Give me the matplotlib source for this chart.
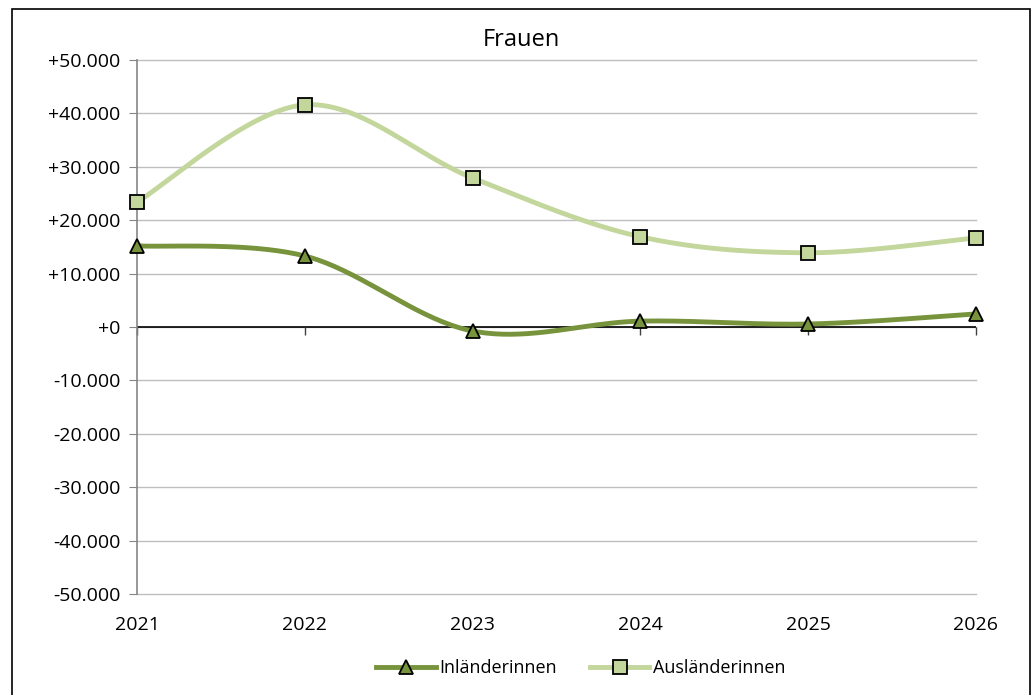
import numpy as np
import matplotlib
matplotlib.use("Agg")
import matplotlib.pyplot as plt
from matplotlib.patches import Rectangle
from matplotlib.ticker import FuncFormatter

years = ["2021", "2022", "2023", "2024", "2025", "2026"]
inlaender = [15200, 13300, -750, 1100, 560, 2450]
auslaender = [23400, 41600, 27900, 16900, 13900, 16700]
series_names = ["Inländerinnen", "Ausländerinnen"]
title = "Frauen"

plt.rcParams['font.family'] = ['Open Sans', 'DejaVu Sans']

def smooth(xs, ys, n=40):
    xs = np.asarray(xs, float); ys = np.asarray(ys, float)
    px, py = [], []
    m = len(xs)
    for i in range(m - 1):
        x0, y0 = (xs[i-1], ys[i-1]) if i > 0 else (xs[i], ys[i])
        x3, y3 = (xs[i+2], ys[i+2]) if i + 2 < m else (xs[i+1], ys[i+1])
        x1, y1 = xs[i], ys[i]
        x2, y2 = xs[i+1], ys[i+1]
        c1x, c1y = x1 + (x2 - x0) / 6, y1 + (y2 - y0) / 6
        c2x, c2y = x2 - (x3 - x1) / 6, y2 - (y3 - y1) / 6
        t = np.linspace(0, 1, n)
        bx = (1-t)**3*x1 + 3*(1-t)**2*t*c1x + 3*(1-t)*t**2*c2x + t**3*x2
        by = (1-t)**3*y1 + 3*(1-t)**2*t*c1y + 3*(1-t)*t**2*c2y + t**3*y2
        px.extend(bx); py.extend(by)
    return np.array(px), np.array(py)

fig = plt.figure(figsize=(10.35, 6.95), dpi=100)
fig.patches.append(Rectangle((12/1035, -0.05), (1030-12)/1035, 1.05 - 9/695,
                             transform=fig.transFigure, fill=False, edgecolor='black', linewidth=1.2))
ax = fig.add_axes([137/1035, 1 - 594/695, (976-137)/1035, (594-60)/695])

x = np.arange(len(years))
dark = '#77933C'
light = '#C3D69B'

ax.axhline(0, color='black', lw=1.2, zorder=2)
ax.plot(x, np.zeros(len(x)), ls='none', marker=3, ms=6, mew=1, color='#404040', zorder=2, clip_on=False)

sx, sy = smooth(x, auslaender)
ax.plot(sx, sy, color=light, lw=3.5, zorder=3, clip_on=False)
ax.plot(x, auslaender, ls='none', marker='s', ms=10, mfc=light, mec='black', mew=1.3, zorder=4, clip_on=False)
sx, sy = smooth(x, inlaender)
ax.plot(sx, sy, color=dark, lw=3.5, zorder=3, clip_on=False)
ax.plot(x, inlaender, ls='none', marker='^', ms=10.5, mfc=dark, mec='black', mew=1.3, zorder=4, clip_on=False)

ax.plot([], [], color=dark, lw=3.5, marker='^', ms=10, mfc=dark, mec='black', mew=1.3, label=series_names[0])
ax.plot([], [], color=light, lw=3.5, marker='s', ms=10, mfc=light, mec='black', mew=1.3, label=series_names[1])

ax.set_xlim(0, 5)
ax.set_ylim(-50000, 50000)
ax.set_yticks(np.arange(-50000, 50001, 10000))
ax.yaxis.set_major_formatter(FuncFormatter(lambda v, p: ("+" if v >= 0 else "-") + f"{abs(int(v)):,}".replace(",", ".")))
ax.grid(axis='y', color='#BFBFBF', lw=1)
for gl in ax.get_ygridlines():
    gl.set_clip_on(False)
ax.set_axisbelow(True)
for s in ['top', 'right', 'bottom']:
    ax.spines[s].set_visible(False)
ax.spines['left'].set_color('#868686')
ax.spines['left'].set_linewidth(1.2)
ax.tick_params(axis='y', direction='out', length=6, color='#868686', labelsize=14, pad=6)
ax.set_xticks(x)
ax.set_xticklabels(years)
ax.tick_params(axis='x', length=0, labelsize=14, pad=16)

fig.text(521/1035, 1 - 40/695, title, ha='center', va='center', fontsize=17)
fig.legend(loc='center', bbox_to_anchor=(581/1035, 1 - 668/695), ncol=2, frameon=False,
           fontsize=13, handlelength=3.3, columnspacing=1.8, handletextpad=0.2)

fig.savefig("out.png", dpi=100)
